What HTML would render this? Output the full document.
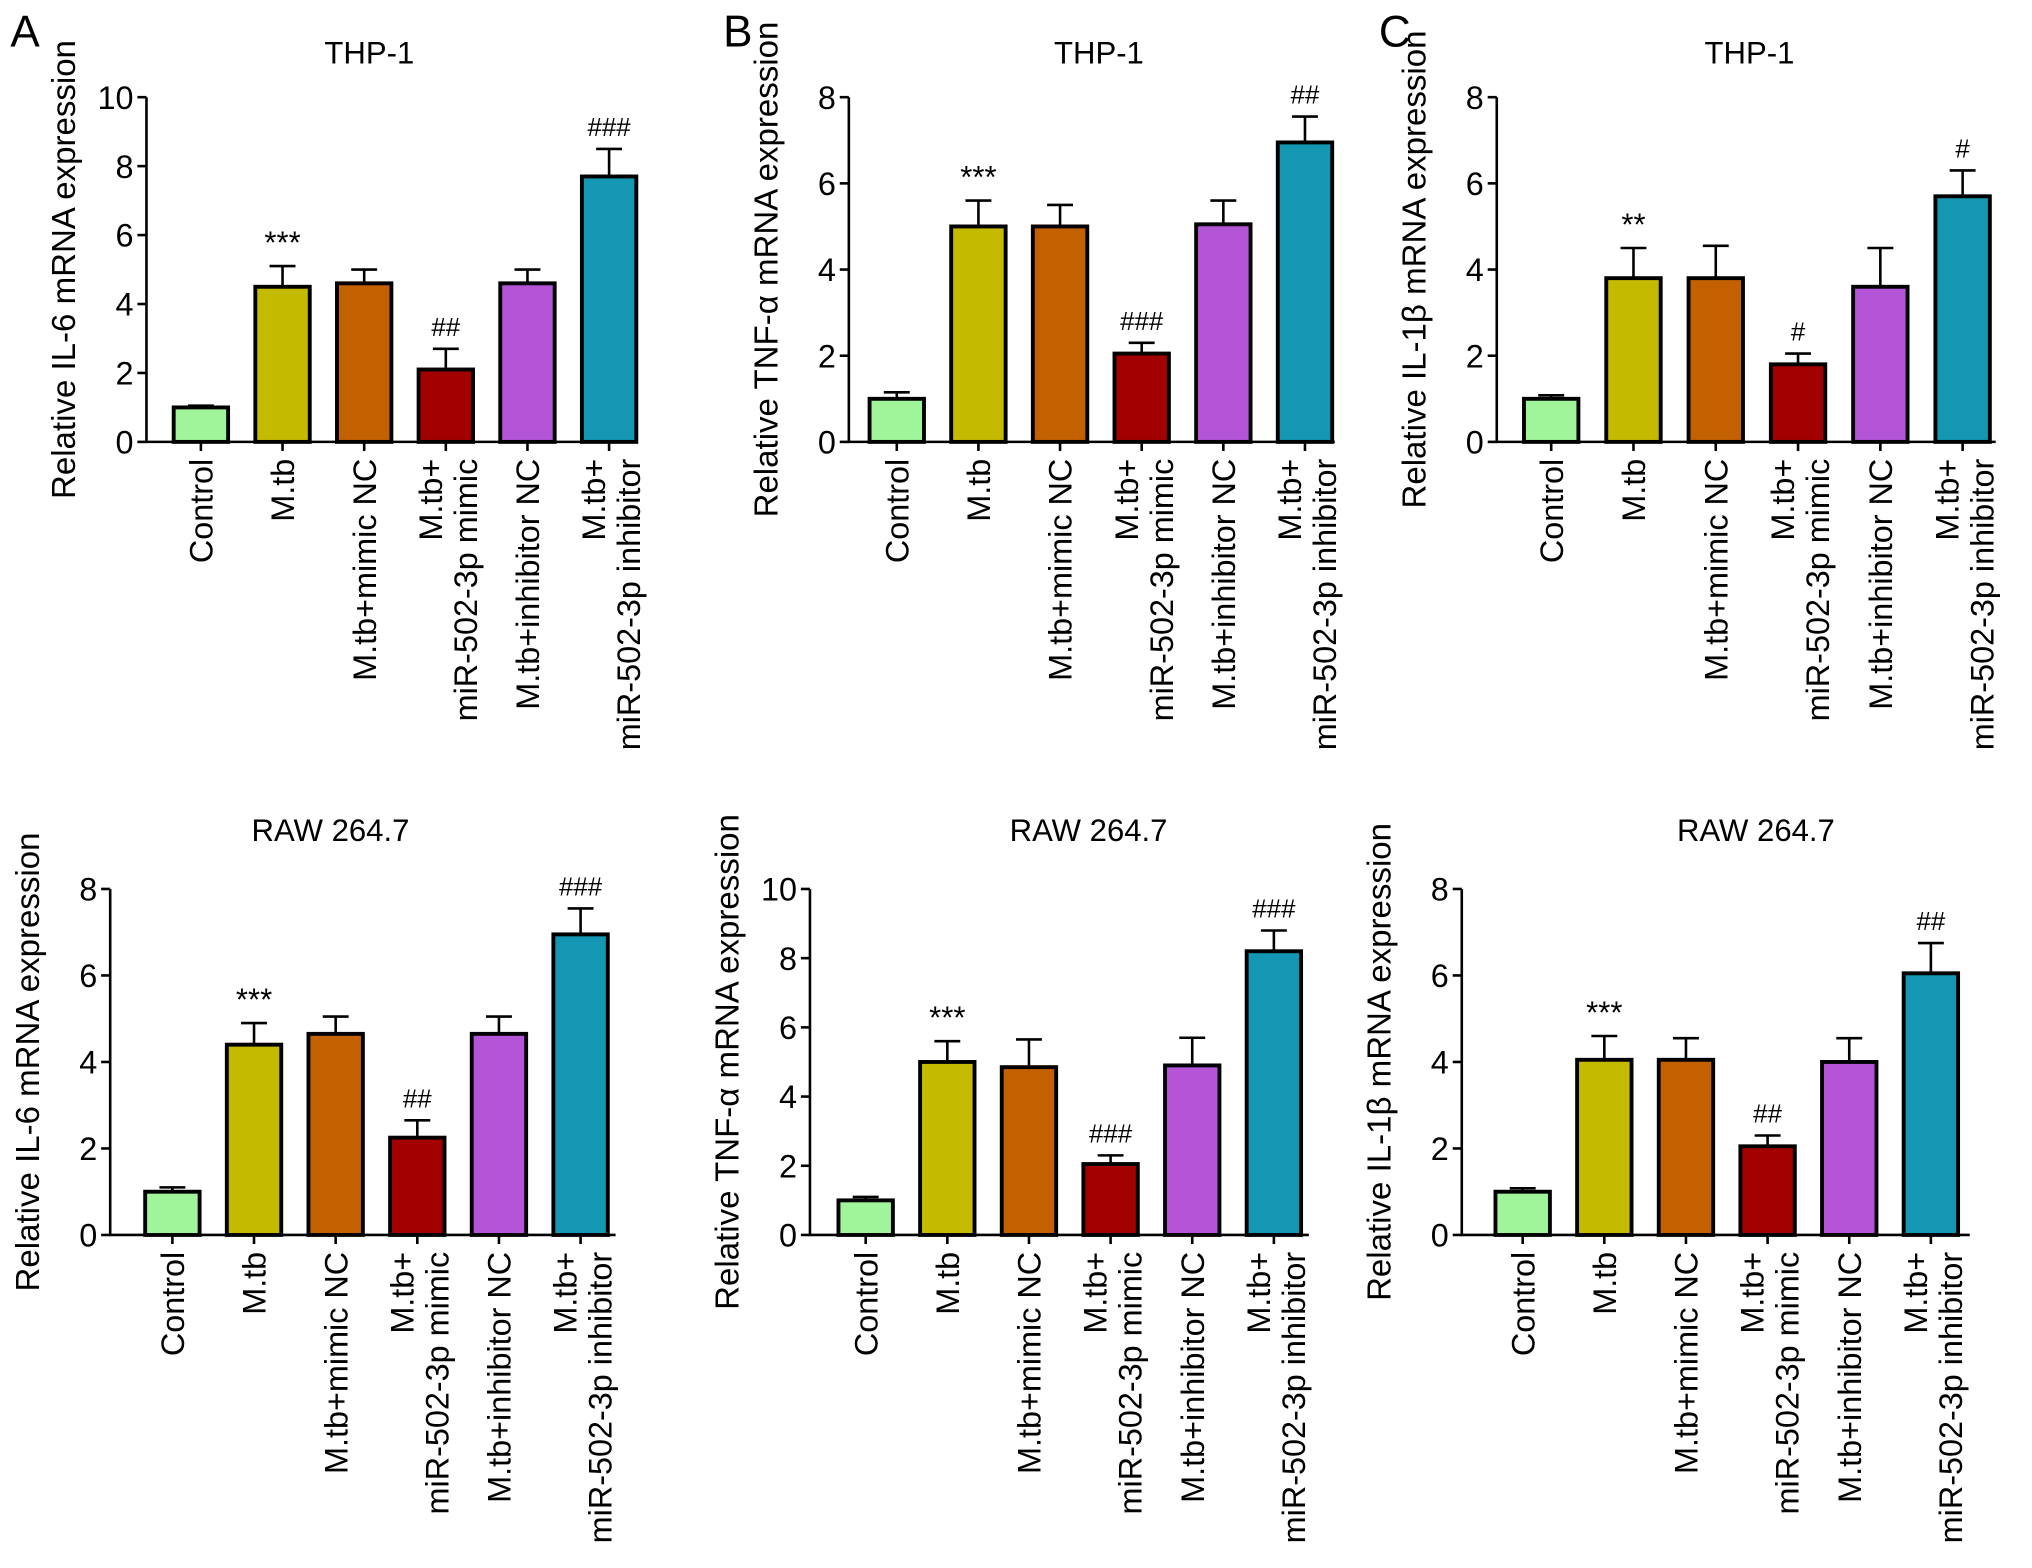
<!DOCTYPE html>
<html><head><meta charset="utf-8"><style>
html,body{margin:0;padding:0;background:#fff}
svg{display:block;font-family:"Liberation Sans",Arial,sans-serif}
</style></head><body>
<svg id="fig" width="2032" height="1568" viewBox="0 0 1568 1210" xmlns="http://www.w3.org/2000/svg"></svg>
<script>
const categories = [["Control"],["M.tb"],["M.tb+mimic NC"],["M.tb+","miR-502-3p mimic"],["M.tb+inhibitor NC"],["M.tb+","miR-502-3p inhibitor"]];
const colors = ["#a0f59a","#c4bb00","#c36000","#a30000","#b455d8","#1397b2"];
const aTopValues = [1.0,4.5,4.6,2.1,4.6,7.7];
const aTopErr = [0.05,0.6,0.4,0.6,0.4,0.8];
const aTopSig = ["","***","","##","","###"];
const bTopValues = [1.0,5.0,5.0,2.05,5.05,6.95];
const bTopErr = [0.15,0.6,0.5,0.25,0.55,0.6];
const bTopSig = ["","***","","###","","##"];
const cTopValues = [1.0,3.8,3.8,1.8,3.6,5.7];
const cTopErr = [0.08,0.7,0.75,0.25,0.9,0.6];
const cTopSig = ["","**","","#","","#"];
const aBotValues = [1.0,4.4,4.65,2.25,4.65,6.95];
const aBotErr = [0.1,0.5,0.4,0.4,0.4,0.6];
const aBotSig = ["","***","","##","","###"];
const bBotValues = [1.0,5.0,4.85,2.05,4.9,8.2];
const bBotErr = [0.1,0.6,0.8,0.25,0.8,0.6];
const bBotSig = ["","***","","###","","###"];
const cBotValues = [1.0,4.05,4.05,2.05,4.0,6.05];
const cBotErr = [0.08,0.55,0.5,0.25,0.55,0.7];
const cBotSig = ["","***","","##","","##"];
const ticks8 = [0,2,4,6,8];
const ticks10 = [0,2,4,6,8,10];

const NS="http://www.w3.org/2000/svg";
const svg=document.getElementById('fig');
function mk(tag,attrs,parent,txt){const e=document.createElementNS(NS,tag);for(const k in attrs)e.setAttribute(k,attrs[k]);if(txt!==undefined)e.textContent=txt;(parent||svg).appendChild(e);return e;}

function panel(o){
  const g=mk('g',{});
  
  
  const ymax=o.ticks[o.ticks.length-1];
  const y=v=>o.y0-(o.y0-o.yTop)*v/ymax;
  const x=i=>o.x0+o.first+i*o.step;
  const bw=42;
  const t=mk('text',{x:o.titleX,y:o.titleY,'text-anchor':'middle','font-size':24},g,o.title);
  
  
  const ym=(o.y0+o.yTop)/2;
  const yl=mk('text',{x:0,y:0,'text-anchor':'middle','font-size':25.5,transform:`translate(${o.x0-55},${ym}) rotate(-90)`},g,o.ylabel);
  
  
  const ya=mk('line',{x1:o.x0,y1:o.yTop,x2:o.x0,y2:o.y0,stroke:'#000','stroke-width':2},g);
  
  
  const xa=mk('line',{x1:o.x0-1,y1:o.y0,x2:o.xEnd,y2:o.y0,stroke:'#000','stroke-width':2},g);
  
  
  o.ticks.forEach(tv=>{
    mk('line',{x1:o.x0-7,y1:y(tv),x2:o.x0,y2:y(tv),stroke:'#000','stroke-width':2},g);
    const tl=mk('text',{x:o.x0-10,y:y(tv)+9,'text-anchor':'end','font-size':25},g,String(tv));
    
    
  });
  o.values.forEach((v,i)=>{
    const cx=x(i);
    const et=y(v+o.err[i]);
    mk('line',{x1:cx,y1:y(v),x2:cx,y2:et,stroke:'#000','stroke-width':2},g);
    mk('line',{x1:cx-10,y1:et,x2:cx+10,y2:et,stroke:'#000','stroke-width':2},g);
    const r=mk('rect',{x:cx-bw/2,y:y(v),width:bw,height:o.y0-y(v),fill:colors[i],stroke:'#000','stroke-width':3},g);
    
    
    mk('line',{x1:cx,y1:o.y0,x2:cx,y2:o.y0+7,stroke:'#000','stroke-width':2},g);
    if(o.sig[i]){
      const s=mk('text',{x:cx,y:et-10,'text-anchor':'middle','font-size':o.sig[i].includes('*')?24:20},g,o.sig[i]);
      
      
    }
    const lines=categories[i];
    lines.forEach((ln,j)=>{
      const bx = lines.length===1 ? cx+9 : cx-3+j*27;
      const lt=mk('text',{x:0,y:0,'text-anchor':'end','font-size':25,transform:`translate(${bx},${o.y0+13}) rotate(-90)`},g,ln);
      
      
    });
  });
}
function letter(t,x,y){const e=mk('text',{x:x,y:y,'font-size':34},svg,t);}
letter('A',8,36);letter('B',558,36);letter('C',1064,36);

panel({name:'chart-a-thp1',title:'THP-1',titleX:285,titleY:49,ylabel:'Relative IL-6 mRNA expression',x0:113,y0:341,yTop:75,xEnd:490,first:42,step:63,ticks:ticks10,values:aTopValues,err:aTopErr,sig:aTopSig});
panel({name:'chart-b-thp1',title:'THP-1',titleX:848,titleY:49,ylabel:'Relative TNF-\u03b1 mRNA expression',x0:655,y0:341,yTop:75,xEnd:1030,first:37,step:63,ticks:ticks8,values:bTopValues,err:bTopErr,sig:bTopSig});
panel({name:'chart-c-thp1',title:'THP-1',titleX:1350,titleY:49,ylabel:'Relative IL-1\u03b2 mRNA expression',x0:1155,y0:341,yTop:75,xEnd:1540,first:42,step:63.5,ticks:ticks8,values:cTopValues,err:cTopErr,sig:cTopSig});
panel({name:'chart-a-raw',title:'RAW 264.7',titleX:255,titleY:649,ylabel:'Relative IL-6 mRNA expression',x0:85,y0:953,yTop:686,xEnd:475,first:48,step:63,ticks:ticks8,values:aBotValues,err:aBotErr,sig:aBotSig});
panel({name:'chart-b-raw',title:'RAW 264.7',titleX:840,titleY:649,ylabel:'Relative TNF-\u03b1 mRNA expression',x0:625,y0:953,yTop:686,xEnd:1010,first:43,step:63,ticks:ticks10,values:bBotValues,err:bBotErr,sig:bBotSig});
panel({name:'chart-c-raw',title:'RAW 264.7',titleX:1355,titleY:649,ylabel:'Relative IL-1\u03b2 mRNA expression',x0:1128,y0:953,yTop:686,xEnd:1520,first:47,step:63,ticks:ticks8,values:cBotValues,err:cBotErr,sig:cBotSig});
</script>
</body></html>
